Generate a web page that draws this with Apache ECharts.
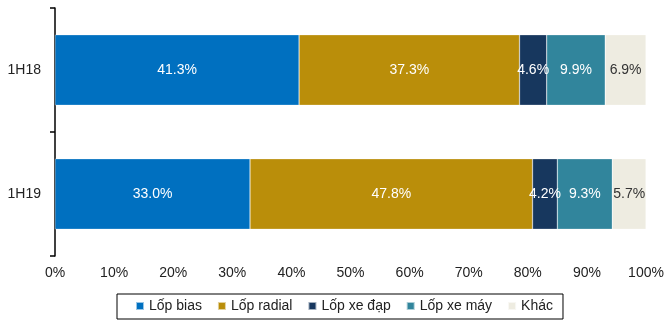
<!DOCTYPE html>
<html>
<head>
<meta charset="utf-8">
<script src="https://cdn.jsdelivr.net/npm/echarts@6/dist/echarts.min.js"></script>
<style>
  html, body { margin: 0; padding: 0; background: #fff; }
  #chart { width: 664px; height: 325px; }
</style>
</head>
<body>
<div id="chart"></div>
<script>
const categories = ['1H18', '1H19']
const seriesNames = ['Lốp bias', 'Lốp radial', 'Lốp xe đạp', 'Lốp xe máy', 'Khác']
const biasVals = [41.3, 33.0]
const radialVals = [37.3, 47.8]
const bikeVals = [4.6, 4.2]
const motoVals = [9.9, 9.3]
const otherVals = [6.9, 5.7]
const xTicks = [0, 10, 20, 30, 40, 50, 60, 70, 80, 90, 100]

const colors = ['#0070C0', '#BA8E0A', '#17375E', '#31859C', '#EEECE1']
const labelColors = ['#fff', '#fff', '#fff', '#fff', '#333']
const allVals = [biasVals, radialVals, bikeVals, motoVals, otherVals]
const font = '"Liberation Sans", Arial, sans-serif'

const chart = echarts.init(document.getElementById('chart'))
chart.setOption({
  animation: false,
  textStyle: { fontFamily: font },
  grid: { left: 55, right: 18, top: 8, bottom: 69, outerBoundsMode: 'none' },
  legend: {
    data: seriesNames,
    left: 117,
    top: 294,
    padding: [5, 10, 6, 18],
    borderColor: '#000',
    borderWidth: 1,
    itemWidth: 8,
    itemHeight: 8,
    itemGap: 15,
    icon: 'rect',
    textStyle: { fontSize: 14, color: '#222', fontFamily: font }
  },
  xAxis: {
    type: 'value',
    min: xTicks[0],
    max: xTicks[xTicks.length - 1],
    interval: 10,
    axisLine: { show: false },
    axisTick: { show: false },
    splitLine: { show: false },
    axisLabel: { formatter: '{value}%', fontSize: 14, color: '#222', margin: 10, fontFamily: font }
  },
  yAxis: {
    type: 'category',
    data: categories,
    inverse: true,
    axisLine: { show: true, lineStyle: { color: '#000', width: 1.5 } },
    axisTick: { show: true, inside: false, length: 5, lineStyle: { color: '#000', width: 1.5 } },
    axisLabel: { fontSize: 14, color: '#222', margin: 14, fontFamily: font }
  },
  series: seriesNames.map((name, i) => ({
    name: name,
    type: 'bar',
    stack: 'total',
    barWidth: '57%',
    data: allVals[i],
    itemStyle: { color: colors[i], borderColor: 'rgba(255,255,255,0.6)', borderWidth: 0.5 },
    label: {
      show: true,
      position: 'inside',
      color: labelColors[i],
      fontSize: 14,
      fontFamily: font,
      formatter: p => p.value.toFixed(1) + '%'
    }
  }))
})
</script>
</body>
</html>
